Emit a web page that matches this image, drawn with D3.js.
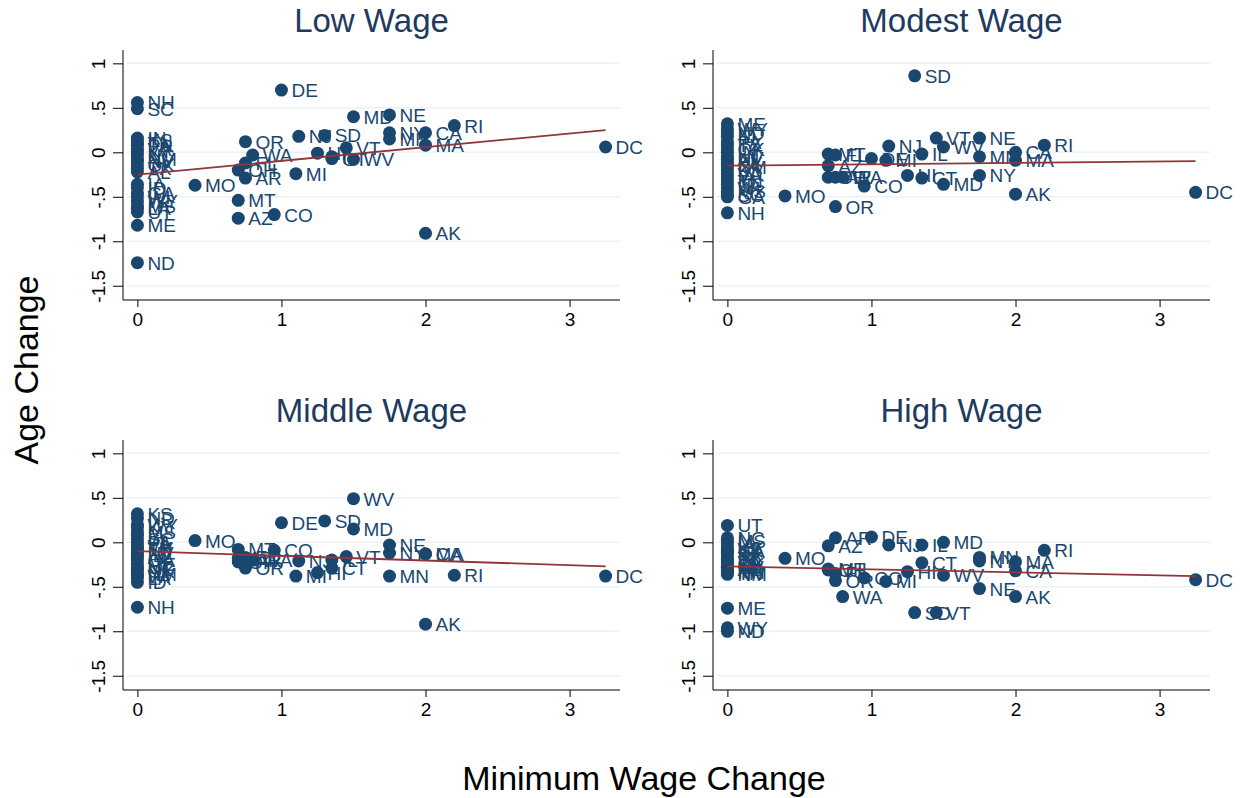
<!DOCTYPE html>
<html><head><meta charset="utf-8">
<script src="https://cdn.jsdelivr.net/npm/d3@7"></script>
<style>body{margin:0;background:#fff}svg{font-family:Arial,"Liberation Sans",sans-serif}</style>
</head><body><svg id="c" width="1240" height="798"></svg>
<script>
const states = ["AL","GA","ID","IN","IA","KS","KY","LA","ME","MS","NC","ND","NH","NM","NV","OK","PA","SC","TN","TX","UT","VA","WI","WY",
"AK","AR","AZ","CA","CO","CT","DC","DE","FL","HI","IL","MA","MD","MI","MN","MO","MT","NE","NJ","NY","OH","OR","RI","SD","VT","WA","WV"];
const minWageChange = [0,0,0,0,0,0,0,0,0,0,0,0,0,0,0,0,0,0,0,0,0,0,0,0,
2,0.75,0.7,2,0.95,1.35,3.25,1,0.75,1.25,1.35,2,1.5,1.1,1.75,0.4,0.7,1.75,1.12,1.75,0.7,0.75,2.2,1.3,1.45,0.8,1.5];
const panelTitles = ["Low Wage","Modest Wage","Middle Wage","High Wage"];
const lowWage = [-.22,-.46,-.40,.16,-.36,.14,.01,-.63,-.82,-.60,-.03,-1.24,.56,-.07,-.10,-.14,.08,.49,.11,-.18,-.67,.04,-.50,-.55,
-.91,-.29,-.74,.22,-.70,-.07,.06,.70,-.12,-.01,-.05,.08,.40,-.24,.15,-.37,-.54,.42,.18,.22,-.20,.12,.30,.19,.05,-.03,-.08];
const modestWage = [-.08,-.50,.18,.00,-.28,-.20,-.12,-.14,.32,-.44,-.36,.22,-.68,-.16,-.06,.04,.12,-.48,-.32,.08,-.04,-.24,-.40,.26,
-.47,-.28,-.15,.00,-.38,-.29,-.45,-.07,-.03,-.26,-.02,-.09,-.36,-.09,-.05,-.49,-.02,.16,.07,-.26,-.28,-.61,.08,.86,.16,-.28,.06];
const middleWage = [-.16,-.20,-.45,-.14,.08,.32,.17,-.40,-.24,.12,-.30,.27,-.73,-.36,-.12,-.32,.00,.04,-.06,-.08,-.28,-.04,-.38,.20,
-.92,-.20,-.18,-.13,-.09,-.29,-.38,.22,-.17,-.34,-.20,-.13,.15,-.38,-.38,.02,-.08,-.03,-.21,-.12,-.22,-.29,-.37,.24,-.16,-.20,.49];
const highWage = [-.30,-.10,-.12,-.32,-.02,-.06,-.26,-.28,-.74,.02,.05,-1.00,-.33,-.36,-.28,-.24,-.14,-.20,-.34,-.18,.19,-.22,-.08,-.96,
-.61,.05,-.04,-.32,-.40,-.23,-.42,.06,-.35,-.33,-.03,-.22,.00,-.44,-.17,-.18,-.30,-.52,-.03,-.21,-.31,-.43,-.09,-.79,-.79,-.61,-.37];
const fitLines = [[-0.25,0.25],[-0.15,-0.10],[-0.10,-0.27],[-0.27,-0.38]]; // fitted value at x=0 and x=3.25
const yTicks = [1,0.5,0,-0.5,-1,-1.5];
const yTickLabels = ["1",".5","0","-.5","-1","-1.5"];
const xTicks = [0,1,2,3];
const series = [lowWage, modestWage, middleWage, highWage];

const svg = d3.select("#c");
const blue="#1a476f", red="#90353b";
const boxes=[{l:123,r:620,t:50,b:300},{l:713,r:1210,t:50,b:300},{l:123,r:620,t:440,b:690},{l:713,r:1210,t:440,b:690}];
boxes.forEach((bx,i)=>{
  const x=d3.scaleLinear().domain([-0.1,3.35]).range([bx.l,bx.r]);
  const y=d3.scaleLinear().domain([-1.66,1.15]).range([bx.b,bx.t]);
  const g=svg.append("g");
  g.selectAll("line.grid").data(yTicks).join("line").attr("x1",bx.l+4).attr("x2",bx.r).attr("y1",d=>y(d)).attr("y2",d=>y(d)).attr("stroke","#eaf2f3").attr("stroke-width",1.5);
  const ya=g.append("g").attr("transform",`translate(${bx.l},0)`).call(d3.axisLeft(y).tickValues(yTicks).tickFormat((d,k)=>yTickLabels[k]).tickSize(10).tickPadding(6));
  ya.selectAll("text").attr("font-size",19).attr("fill","#000").attr("transform","rotate(-90)").attr("text-anchor","middle").attr("x",0).attr("dy","0").attr("y",-18).attr("font-family","Arial");
  ya.selectAll("line").attr("stroke","#000"); ya.select(".domain").attr("stroke","#000").attr("d",`M0,${bx.t}V${bx.b}`);
  const xa=g.append("g").attr("transform",`translate(0,${bx.b})`).call(d3.axisBottom(x).tickValues(xTicks).tickFormat(d3.format("d")).tickSize(7).tickPadding(6));
  xa.selectAll("text").attr("font-size",19).attr("fill","#000").attr("font-family","Arial");
  xa.selectAll("line").attr("stroke","#000"); xa.select(".domain").attr("stroke","#000").attr("d",`M${bx.l},0H${bx.r}`);
  const pts=states.map((s,k)=>({s,x:minWageChange[k],y:series[i][k]}));
  g.selectAll("circle").data(pts).join("circle").attr("cx",d=>x(d.x)).attr("cy",d=>y(d.y)).attr("r",6.5).attr("fill",blue);
  g.selectAll("text.lab").data(pts).join("text").attr("class","lab").attr("x",d=>x(d.x)+10).attr("y",d=>y(d.y)+7).attr("font-size",19).attr("fill",blue).text(d=>d.s);
  g.append("line").attr("x1",x(0)).attr("x2",x(3.25)).attr("y1",y(fitLines[i][0])).attr("y2",y(fitLines[i][1])).attr("stroke",red).attr("stroke-width",1.8);
  svg.append("text").attr("x",(bx.l+bx.r)/2).attr("y",bx.t-18).attr("text-anchor","middle").attr("font-size",33).attr("fill","#1e3a5f").text(panelTitles[i]);
});
svg.append("text").attr("transform","translate(38,370) rotate(-90)").attr("text-anchor","middle").attr("font-size",34).text("Age Change");
svg.append("text").attr("x",644).attr("y",790).attr("text-anchor","middle").attr("font-size",34).text("Minimum Wage Change");
</script></body></html>
